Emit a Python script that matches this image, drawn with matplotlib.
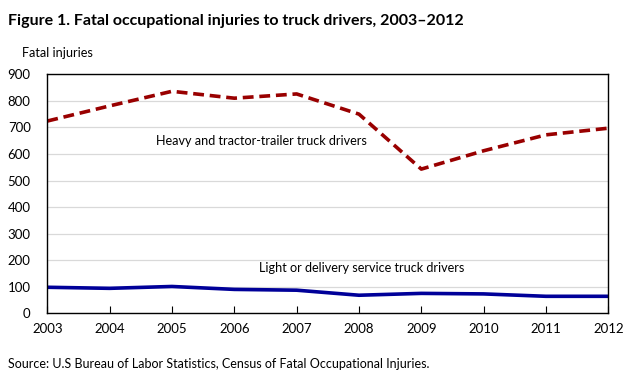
import matplotlib
matplotlib.use("Agg")
import matplotlib.pyplot as plt

years = [2003, 2004, 2005, 2006, 2007, 2008, 2009, 2010, 2011, 2012]
heavy = [724, 781, 836, 810, 826, 750, 543, 612, 672, 697]
light = [98, 94, 101, 90, 87, 68, 75, 73, 64, 64]
y_ticks = [0, 100, 200, 300, 400, 500, 600, 700, 800, 900]

plt.rcParams['font.family'] = ['Lato', 'DejaVu Sans']

fig = plt.figure(figsize=(6.31, 3.81), dpi=100)
ax = fig.add_axes([0.075, 0.1777, 0.889, 0.6273])

ax.plot(years, heavy, color='#990000', linewidth=2.6, linestyle=(0, (3, 1.6)))
ax.plot(years, light, color='#000099', linewidth=2.6)

ax.set_xlim(2003, 2012)
ax.set_ylim(0, 900)
ax.set_yticks(y_ticks)
ax.set_xticks(years)
ax.set_xticklabels([str(y) for y in years], fontsize=9.5)
ax.set_yticklabels([str(v) for v in y_ticks], fontsize=9.5)
ax.tick_params(axis='y', length=0, pad=12)
ax.tick_params(axis='x', direction='in', length=5, width=0.8, pad=7)
ax.grid(axis='y', color='#d9d9d9', linewidth=0.9)
ax.set_axisbelow(True)
for s in ax.spines.values():
    s.set_linewidth(1.0)
    s.set_color('black')

ax.text(2004.74, 649, "Heavy and tractor-trailer truck drivers", fontsize=9.1, va='center', ha='left')
ax.text(2006.40, 172, "Light or delivery service truck drivers", fontsize=9.1, va='center', ha='left')

fig.text(0.013, 0.945, "Figure 1. Fatal occupational injuries to truck drivers, 2003\u20132012",
         fontsize=11.5, fontweight='bold', va='center', ha='left')
fig.text(0.035, 0.862, "Fatal injuries", fontsize=9.1, va='center', ha='left')
fig.text(0.013, 0.045, "Source: U.S Bureau of Labor Statistics, Census of Fatal Occupational Injuries.",
         fontsize=9, va='center', ha='left')

fig.savefig("out.png", dpi=100)
